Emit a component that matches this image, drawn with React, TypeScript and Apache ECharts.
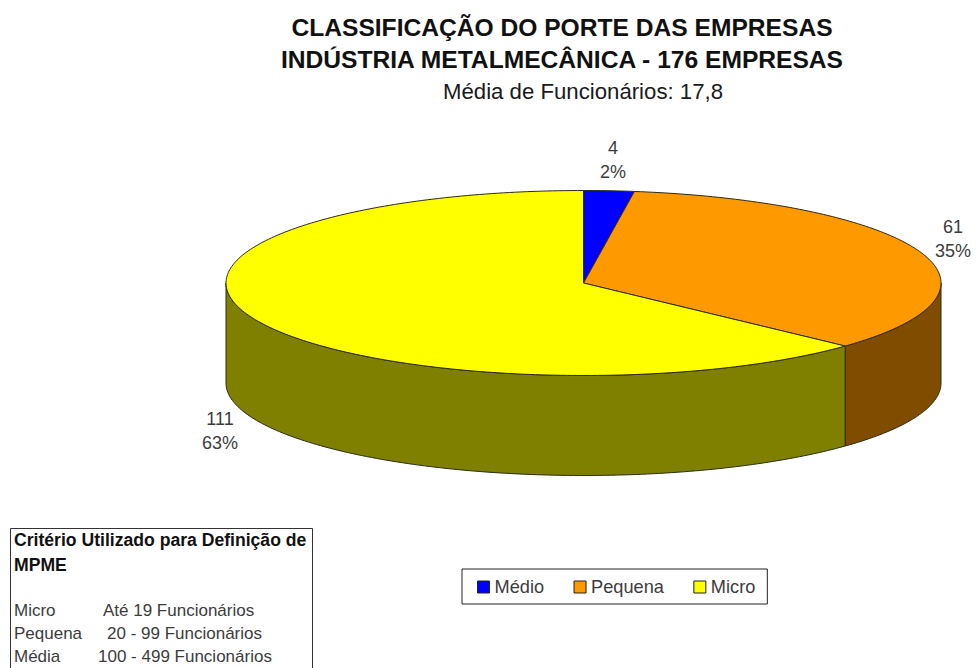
import React, { useEffect, useRef } from "react";
import * as echarts from "echarts";

const categories = ["Médio", "Pequena", "Micro"];
const companies = [4, 61, 111];
const topColors = ["#0000FF", "#FF9900", "#FFFF00"];
const wallColors = ["#00007F", "#7F4C00", "#808000"];
const titleText = "CLASSIFICAÇÃO DO PORTE DAS EMPRESAS\nINDÚSTRIA METALMECÂNICA - 176 EMPRESAS";
const subtitleText = "Média de Funcionários: 17,8";
const criteriaTitle = ["Critério Utilizado para Definição de", "MPME"];
const criteriaNames = ["Micro", "Pequena", "Média"];
const criteriaRanges = ["Até 19 Funcionários", "20 - 99 Funcionários", "100 - 499 Funcionários"];

const FONT = '"Liberation Sans", Arial, sans-serif';
const CX = 583.5, CY = 283, RX = 357.5, RY = 92.5, DEPTH = 100;
const labelAnchors = [[613, 160], [953, 239], [220, 431]];
const rangeX = [103, 107, 98];
const total = companies.reduce((a, b) => a + b, 0);

const rim = (deg: number, dy = 0) => {
  const t = (deg * Math.PI) / 180;
  return [CX + RX * Math.sin(t), CY - RY * Math.cos(t) + dy];
};
const arc = (from: number, to: number, dy = 0) => {
  const n = Math.max(2, Math.ceil(Math.abs(to - from)));
  const out: number[][] = [];
  for (let i = 0; i <= n; i++) out.push(rim(from + ((to - from) * i) / n, dy));
  return out;
};

const makeRender = (index: number) => () => {
  const before = companies.slice(0, index).reduce((a, b) => a + b, 0);
  const start = (before / total) * 360;
  const end = ((before + companies[index]) / total) * 360;
  const children: any[] = [];
  const a = Math.max(start, 90), b = Math.min(end, 270);
  if (b > a) {
    children.push({
      type: "polygon",
      shape: { points: [...arc(a, b), ...arc(b, a, DEPTH)] },
      style: { fill: wallColors[index], stroke: "#2b2b1a", lineWidth: 1 },
    });
  }
  children.push({
    type: "polygon",
    z2: 5,
    shape: { points: [[CX, CY], ...arc(start, end)] },
    style: { fill: topColors[index], stroke: "#2b2b1a", lineWidth: 1 },
  });
  children.push({
    type: "text",
    z2: 6,
    style: {
      text: `${companies[index]}\n${Math.round((companies[index] / total) * 100)}%`,
      x: labelAnchors[index][0],
      y: labelAnchors[index][1],
      align: "center",
      verticalAlign: "middle",
      lineHeight: 24,
      fill: "#3c3c3c",
      font: `18px ${FONT}`,
    },
  });
  return { type: "group", children };
};

const boxText = (text: string, x: number, y: number, bold = false) => ({
  type: "text",
  style: {
    text,
    x,
    y,
    verticalAlign: "middle",
    fill: bold ? "#111111" : "#3c3c3c",
    font: `${bold ? "bold 17.6px" : "17px"} ${FONT}`,
  },
});

export default function App() {
  const ref = useRef<HTMLDivElement>(null);
  useEffect(() => {
    const chart = echarts.init(ref.current!, undefined, { renderer: "svg" });
    chart.setOption({
      animation: false,
      backgroundColor: "#ffffff",
      title: [
        {
          text: titleText,
          left: 562,
          top: 11,
          textAlign: "center",
          padding: 0,
          textStyle: { fontFamily: FONT, fontSize: 24.6, fontWeight: "bold", lineHeight: 32, color: "#111111" },
        },
        {
          text: subtitleText,
          left: 583,
          top: 80,
          textAlign: "center",
          padding: 0,
          textStyle: { fontFamily: FONT, fontSize: 22.2, fontWeight: "normal", color: "#1a1a1a" },
        },
      ],
      legend: {
        data: categories.map((name, i) => ({ name, itemStyle: { color: topColors[i], borderColor: "#222", borderWidth: 1 } })),
        left: 462,
        top: 569,
        orient: "horizontal",
        padding: [9, 12, 8, 15],
        itemWidth: 12,
        itemHeight: 12,
        itemGap: 29.5,
        icon: "rect",
        backgroundColor: "#ffffff",
        borderColor: "#222222",
        borderWidth: 1,
        selectedMode: false,
        textStyle: { fontFamily: FONT, fontSize: 18.2, color: "#3c3c3c" },
      },
      series: categories.map((name, i) => ({
        type: "custom",
        name,
        coordinateSystem: "none",
        data: [companies[i]],
        color: topColors[i],
        renderItem: makeRender(i),
      })),
      graphic: [
        { type: "rect", shape: { x: 10.5, y: 528.5, width: 302, height: 150 }, style: { fill: "#fff", stroke: "#333", lineWidth: 1 } },
        ...criteriaTitle.map((t, i) => boxText(t, 14, 540 + i * 25, true)),
        ...criteriaNames.map((t, i) => boxText(t, 14, 610 + i * 23)),
        ...criteriaRanges.map((t, i) => boxText(t, rangeX[i], 610 + i * 23)),
      ],
    });
    return () => chart.dispose();
  }, []);
  return <div ref={ref} style={{ position: "fixed", left: 0, top: 0, width: 977, height: 668 }} />;
}
